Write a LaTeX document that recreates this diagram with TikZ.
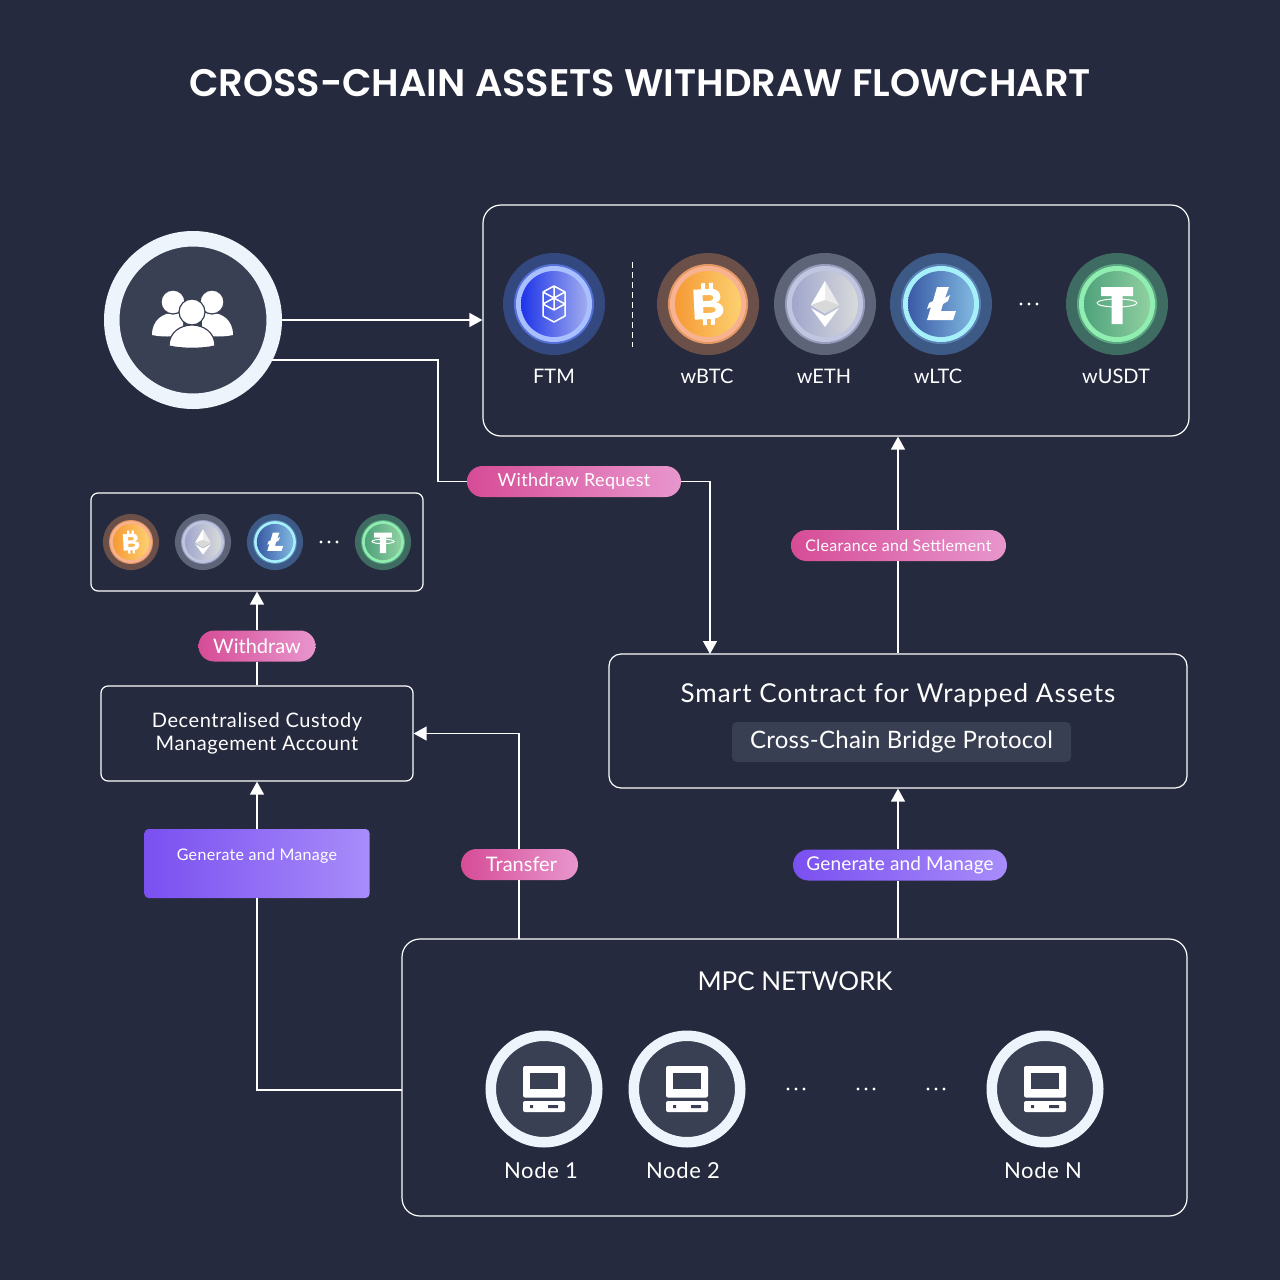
\documentclass[tikz,border=0pt]{standalone}
\usepackage{fontspec}
\setmainfont{Lato}
\newfontfamily\titlefont{Poppins SemiBold}
\usetikzlibrary{arrows.meta,positioning,calc,shapes.misc}
\definecolor{flowbg}{RGB}{38,42,62}
\definecolor{flowdisc}{RGB}{58,64,84}
\definecolor{flowring}{RGB}{238,244,251}
\definecolor{flowtag}{RGB}{56,63,82}
\definecolor{pinkleft}{RGB}{214,76,150}
\definecolor{pinkright}{RGB}{232,150,205}
\definecolor{violetleft}{RGB}{122,80,240}
\definecolor{violetright}{RGB}{168,140,250}
\definecolor{ftmhalo}{RGB}{52,72,128}
\definecolor{ftmband}{RGB}{84,112,216}
\definecolor{ftmrim}{RGB}{168,192,255}
\definecolor{ftmleft}{RGB}{30,52,232}
\definecolor{ftmright}{RGB}{160,172,238}
\definecolor{btchalo}{RGB}{106,80,72}
\definecolor{btcband}{RGB}{226,150,100}
\definecolor{btcrim}{RGB}{248,178,144}
\definecolor{btcleft}{RGB}{245,154,53}
\definecolor{btcright}{RGB}{253,208,112}
\definecolor{ethhalo}{RGB}{94,100,120}
\definecolor{ethband}{RGB}{150,156,186}
\definecolor{ethrim}{RGB}{192,198,224}
\definecolor{ethleft}{RGB}{160,166,204}
\definecolor{ethright}{RGB}{216,218,218}
\definecolor{ltchalo}{RGB}{60,90,133}
\definecolor{ltcband}{RGB}{90,130,180}
\definecolor{ltcrim}{RGB}{166,240,250}
\definecolor{ltcleft}{RGB}{58,90,165}
\definecolor{ltcright}{RGB}{128,184,224}
\definecolor{usdthalo}{RGB}{63,108,98}
\definecolor{usdtband}{RGB}{90,165,130}
\definecolor{usdtrim}{RGB}{144,238,176}
\definecolor{usdtleft}{RGB}{79,162,124}
\definecolor{usdtright}{RGB}{143,208,160}
\newcommand{\ftmglyph}{%
  \draw[white,line width=1.5pt,line join=round]
    (0,-18) -- (11,-12) -- (11,12) -- (0,18) -- (-11,12) -- (-11,-12) -- cycle
    (-11,-12) -- (0,-6) -- (11,-12) (0,-18) -- (0,6) -- (11,0) -- (-11,-12)
    (11,-12) -- (-11,0) -- (0,6) (-11,0) -- (-11,12);}
\newcommand{\btcglyph}{%
  \begin{scope}[rotate=3]
    \fill[white,even odd rule]
      (-14,-15) -- (3,-15) .. controls (15,-15) and (15,-2) .. (8,-1)
      .. controls (18,0) and (18,15) .. (4,15) -- (-14,15) -- cycle
      (-5,-9) -- (2,-9) .. controls (7,-9) and (7,-3) .. (2,-3) -- (-5,-3) -- cycle
      (-5,3) -- (3,3) .. controls (9,3) and (9,9) .. (3,9) -- (-5,9) -- cycle;
    \fill[white] (-6,-21) rectangle (-2,-14) (2,-21) rectangle (6,-14)
      (-6,14) rectangle (-2,21) (2,14) rectangle (6,21);
  \end{scope}}
\newcommand{\ethglyph}{%
  \fill[white!92!black] (0,-23) -- (14,1) -- (0,9) -- (-14,1) -- cycle;
  \fill[white] (0,-23) -- (0,9) -- (-14,1) -- cycle;
  \fill[white!85!black] (0,-4) -- (14,1) -- (0,9) -- (-14,1) -- cycle;
  \fill[white] (0,12) -- (14,4) -- (0,23) -- (-14,4) -- cycle;}
\newcommand{\ltcglyph}{%
  \fill[white] (-4,-17) -- (8,-17) -- (4,-6) -- (9,-9) -- (7,-3) -- (2,0) -- (0,7)
    -- (15,7) -- (12,16) -- (-14,16) -- (-10,3) -- (-14,5) -- (-12,-1) -- (-8,-3) -- cycle;}
\newcommand{\usdtglyph}{%
  \fill[white] (-16,-17) rectangle (16,-8) (-5.5,-8) rectangle (5.5,20);
  \draw[white,line width=1pt] (0,-1) ellipse (20 and 4);}
\tikzset{
  panel box/.style={
    draw=white,
    rounded corners=18pt,
    line width=1.2pt,
    inner sep=0pt,
  },
  small box/.style={
    draw=white,
    rounded corners=7pt,
    line width=1.2pt,
    inner sep=0pt,
  },
  flow arrow/.style={
    -{Triangle[length=13pt,width=14pt]},
    line width=1.3pt,
    draw=white,
  },
  flow line/.style={
    line width=1.3pt,
    draw=white,
  },
  pink pill/.style={
    rounded rectangle,
    left color=pinkleft,
    right color=pinkright,
    text=white,
    font=\fontsize{18}{20}\selectfont\addfontfeature{LetterSpace=2},
    minimum height=31pt,
    inner sep=0pt,
  },
  violet pill/.style={
    pink pill,
    left color=violetleft,
    right color=violetright,
  },
  coin label/.style={
    text=white,
    font=\fontsize{20}{24}\selectfont,
    inner sep=0pt,
  },
  node label/.style={
    text=white,
    font=\fontsize{22}{26}\selectfont\addfontfeature{LetterSpace=3},
    inner sep=0pt,
  },
  host disc/.style={
    circle,
    draw=flowring,
    fill=flowdisc,
    line width=10.5pt,
    minimum size=106.5pt,
    inner sep=0pt,
  },
  pics/more dots/.style={code={
    \fill[white] (-8,0) circle (1.7) (0,0) circle (1.7) (8,0) circle (1.7);
  }},
  pics/coin/.style n args={6}{code={
    \fill[#1] (0,0) circle (51);
    \fill[#2] (0,0) circle (40);
    \fill[#3] (0,0) circle (38);
    \shade[left color=#4,right color=#5] (0,0) circle (33);
    #6
  }},
  pics/host glyph/.style={code={
    \fill[white,rounded corners=2pt] (-21,-23) rectangle (21,8.5);
    \fill[flowdisc] (-14,-16) rectangle (14,0);
    \fill[white,rounded corners=2pt] (-21,12) rectangle (21,23);
    \fill[flowdisc] (-14,16) rectangle (-11,19) (4,16) rectangle (14,19);
  }},
  pics/people glyph/.style={code={
    \fill[white] (-41,15) .. controls (-41,0) and (-30,-7) .. (-20,-7)
      -- (-10,-7) -- (-10,15) .. controls (-20,17) and (-32,17) .. (-41,15) -- cycle;
    \fill[white] (40,15) .. controls (40,0) and (29,-7) .. (19,-7)
      -- (9,-7) -- (9,15) .. controls (19,17) and (31,17) .. (40,15) -- cycle;
    \filldraw[white,draw=flowdisc,line width=1.2pt] (-20,-18) circle (12);
    \filldraw[white,draw=flowdisc,line width=1.2pt] (19,-18) circle (12);
    \filldraw[white,draw=flowdisc,line width=1.2pt] (-1,-8) circle (13);
    \filldraw[white,draw=flowdisc,line width=1.2pt] (-24,26) .. controls (-24,12) and (-12,5) .. (-1,5)
      .. controls (10,5) and (22,12) .. (22,26) .. controls (10,29) and (-12,29) .. (-24,26) -- cycle;
  }},
}

\begin{document}
\begin{tikzpicture}[x=1pt,y=-1pt]
  \fill[flowbg] (0,0) rectangle (1280,1280);
  \useasboundingbox (0,0) rectangle (1280,1280);

  \node[text=white, font=\titlefont\fontsize{38.4}{42}\selectfont] (title) at (640,83)
    {CROSS-CHAIN ASSETS WITHDRAW FLOWCHART};

  % boxes
  \node[panel box, minimum width=706pt, minimum height=231pt] (chains) at (836,320.5) {};
  \node[small box, minimum width=332pt, minimum height=98pt] (wallet) at (257,542) {};
  \node[small box, minimum width=312pt, minimum height=95pt, align=center, text=white,
    font=\fontsize{20}{23}\selectfont\addfontfeature{LetterSpace=3}] (custody) at (257,733.5)
    {Decentralised Custody\\Management Account};
  \node[panel box, rounded corners=12pt, minimum width=578pt, minimum height=134pt] (contract) at (898,721) {};
  \node[panel box, minimum width=785pt, minimum height=277pt] (mpc) at (794.5,1077.5) {};
  \node[circle, draw=flowring, fill=flowdisc, line width=15.5pt, minimum size=162.5pt, inner sep=0pt] (user) at (193,320) {};
  \pic at (user.center) {people glyph};

  \node[text=white, font=\fontsize{26}{28}\selectfont\addfontfeature{LetterSpace=4}] (contracttitle) at (898,695.5)
    {Smart Contract for Wrapped Assets};
  \node[fill=flowtag, rounded corners=5pt, text=white, font=\fontsize{24}{28}\selectfont\addfontfeature{LetterSpace=1},
    minimum width=339pt, minimum height=40pt, inner sep=0pt] (bridge) at (901.5,742)
    {Cross-Chain Bridge Protocol};
  \node[text=white, font=\fontsize{26}{30}\selectfont] (mpctitle) at (795,981) {MPC NETWORK};

  % connector ends
  \coordinate (requestturn) at (438,360);
  \coordinate (contractin) at (710,654);
  \coordinate (transferout) at (519,939);
  \coordinate (mpcout) at (402,1090);

  % labels on connectors
  \node[pink pill, minimum width=214pt] (request) at (574,481.5) {\raisebox{-1pt}{Withdraw Request}};
  \node[pink pill, minimum width=215pt, font=\fontsize{16}{20}\selectfont\addfontfeature{LetterSpace=2}] (clearance) at (898.5,545.5) {Clearance and Settlement};
  \node[pink pill, minimum width=117pt, font=\fontsize{20}{22}\selectfont] (withdraw) at (257,646) {Withdraw};
  \node[pink pill, minimum width=117pt, font=\fontsize{20}{22}\selectfont] (transfer) at (519.5,864.5) {\hspace{4pt}Transfer};
  \node[violet pill, minimum width=214pt, font=\fontsize{19}{22}\selectfont\addfontfeature{LetterSpace=1}] (generateright) at (900,865) {\raisebox{-1.5pt}{Generate and Manage}};
  \node[left color=violetleft, right color=violetright, rounded corners=4pt, text=white,
    font=\fontsize{16}{18}\selectfont\addfontfeature{LetterSpace=2}, minimum width=225pt, minimum height=69pt, inner sep=0pt,
    text depth=0pt] (generateleft) at (257,863.5) {\raisebox{17pt}{Generate and Manage}};

  % connectors
  \draw[flow arrow] (user.east) -- (user.east -| chains.west);
  \draw[flow line] (user.-27 |- requestturn) -- (requestturn) |- (request.west);
  \draw[flow arrow] (request.east) -| (contractin);
  \draw[flow line] (contract.north) -- (contract.north |- clearance.south);
  \draw[flow arrow] (contract.north |- clearance.north) -- (contract.north |- chains.south);
  \draw[flow line] (mpc.north -| contract.south) -- (generateright.south -| contract.south);
  \draw[flow arrow] (generateright.north -| contract.south) -- (contract.south);
  \draw[flow line] (transferout) -- (transfer.south -| transferout);
  \draw[flow arrow] (transfer.north -| transferout) |- (custody.east);
  \draw[flow line] (mpcout) -| (generateleft.south);
  \draw[flow arrow] (generateleft.north) -- (custody.south);
  \draw[flow line] (custody.north) -- (withdraw.south);
  \draw[flow arrow] (withdraw.north) -- (wallet.south);
  \draw[white,line width=1pt,dash pattern=on 6pt off 4pt] (632,262) -- (632,347);

  % coins
  \pic at (554,304) {coin={ftmhalo}{ftmband}{ftmrim}{ftmleft}{ftmright}{\ftmglyph}};
  \pic at (708,304) {coin={btchalo}{btcband}{btcrim}{btcleft}{btcright}{\btcglyph}};
  \pic at (825,304) {coin={ethhalo}{ethband}{ethrim}{ethleft}{ethright}{\ethglyph}};
  \pic at (941,304) {coin={ltchalo}{ltcband}{ltcrim}{ltcleft}{ltcright}{\ltcglyph}};
  \pic at (1117,304) {coin={usdthalo}{usdtband}{usdtrim}{usdtleft}{usdtright}{\usdtglyph}};
  \pic at (1029,304) {more dots};
  \node[coin label] (ftm) at (554,376) {FTM};
  \node[coin label] (wbtc) at (707,376) {wBTC};
  \node[coin label] (weth) at (824,376) {wETH};
  \node[coin label] (wltc) at (938,376) {wLTC};
  \node[coin label] (wusdt) at (1116,376) {wUSDT};

  \pic[scale=.55] at (131,542) {coin={btchalo}{btcband}{btcrim}{btcleft}{btcright}{\btcglyph}};
  \pic[scale=.55] at (203,542) {coin={ethhalo}{ethband}{ethrim}{ethleft}{ethright}{\ethglyph}};
  \pic[scale=.55] at (275,542) {coin={ltchalo}{ltcband}{ltcrim}{ltcleft}{ltcright}{\ltcglyph}};
  \pic[scale=.55] at (383,542) {coin={usdthalo}{usdtband}{usdtrim}{usdtleft}{usdtright}{\usdtglyph}};
  \pic at (329,542) {more dots};

  % network hosts
  \node[host disc] (hostone) at (544,1089) {};
  \node[host disc] (hosttwo) at (687,1089) {};
  \node[host disc] (hostn) at (1045,1089) {};
  \pic at (hostone.center) {host glyph};
  \pic at (hosttwo.center) {host glyph};
  \pic at (hostn.center) {host glyph};
  \pic at (796,1089) {more dots};
  \pic at (866,1089) {more dots};
  \pic at (936,1089) {more dots};
  \node[node label] (labelone) at (541,1170) {Node 1};
  \node[node label] (labeltwo) at (683,1170) {Node 2};
  \node[node label] (labeln) at (1043,1170) {Node N};
\end{tikzpicture}
\end{document}
